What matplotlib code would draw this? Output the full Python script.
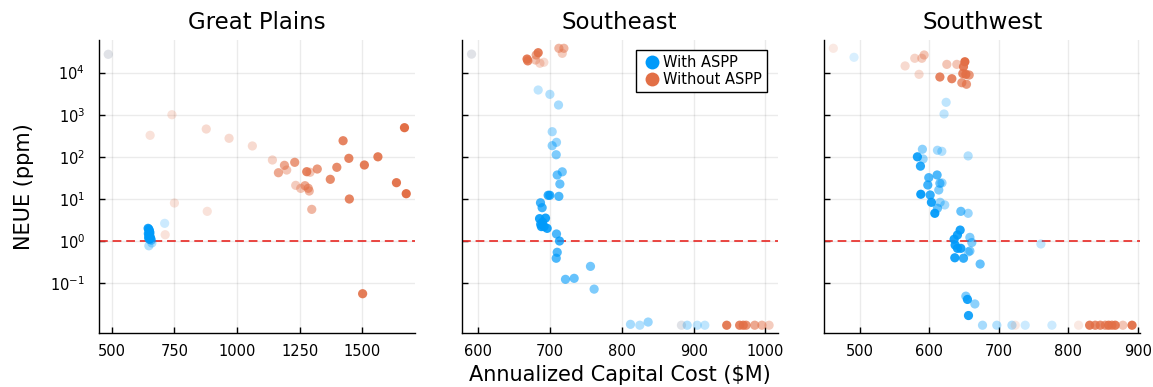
import matplotlib
matplotlib.use("Agg")
import matplotlib.pyplot as plt
import numpy as np
from matplotlib.lines import Line2D

BLUE = "#009AFA"
ORANGE = "#E26F46"

regions = ["Great Plains", "Southeast", "Southwest"]

# Great Plains
gp_with_cost = [486, 711, 648, 660, 645, 648, 650, 652, 646, 651, 649, 653, 647, 655, 650, 658]
gp_with_neue = [27200, 2.63, 0.77, 0.9, 2.0, 1.9, 1.75, 1.6, 1.5, 1.45, 1.35, 1.25, 1.2, 1.15, 1.1, 1.05]
gp_with_alpha = [0.12, 0.2, 0.3, 0.3, 0.9, 0.9, 0.9, 0.9, 0.9, 0.9, 0.9, 0.9, 0.9, 0.9, 0.8, 0.6]

gp_without_cost = [486, 653, 740, 877, 968, 1061, 750, 881, 713, 1141, 1165, 1189, 1198, 1230,
                   1234, 1254, 1271, 1278, 1291, 1284, 1288, 1298, 1320, 1372, 1398, 1423, 1446,
                   1448, 1508, 1501, 1562, 1636, 1668, 1675]
gp_without_neue = [27200, 324, 1000, 457, 275, 181, 8.0, 5.07, 1.41, 84, 41.9, 62.8, 48.5, 74,
                   21, 17.8, 20.6, 44.3, 42.9, 17.9, 15.4, 5.65, 51.3, 29.2, 56.3, 241, 92,
                   9.95, 63.9, 0.056, 100, 24.3, 492, 13.3]
gp_without_alpha = [0.12, 0.2, 0.2, 0.25, 0.25, 0.25, 0.2, 0.2, 0.2, 0.3, 0.6, 0.6, 0.4, 0.7,
                    0.35, 0.4, 0.6, 0.85, 0.4, 0.6, 0.5, 0.5, 0.7, 0.8, 0.8, 0.85, 0.85,
                    0.85, 0.9, 0.9, 0.9, 0.95, 1.0, 1.0]

# Southeast
se_with_cost = [590.7, 683.5, 699.8, 711.8, 703, 709, 703, 708.6, 717, 710, 713.7, 697.4, 699.7,
                712.3, 686.7, 689, 685.4, 693.7, 689.5, 688, 696, 691.7, 687, 709, 713.2, 710,
                708.6, 756.3, 721.5, 733.6, 761.4, 812, 825, 836.6, 883, 891, 905, 915.5]
se_with_neue = [27500, 3860, 3050, 1700, 395, 221, 184, 112, 44, 37, 22.6, 12.2, 12.2,
                11.5, 8.1, 6.2, 3.4, 3.5, 2.8, 2.2, 2.0, 2.2, 2.5, 1.47, 1.0, 0.54,
                0.39, 0.25, 0.123, 0.13, 0.072, 0.0105, 0.01, 0.0119, 0.01, 0.01, 0.01, 0.01]
se_with_alpha = [0.12, 0.25, 0.3, 0.35, 0.35, 0.4, 0.45, 0.5, 0.55, 0.6, 0.6, 0.8, 0.8,
                 0.7, 0.75, 0.75, 0.9, 0.9, 0.9, 0.9, 0.9, 0.9, 0.9, 0.7, 0.8, 0.7,
                 0.7, 0.55, 0.6, 0.6, 0.5, 0.35, 0.3, 0.4, 0.12, 0.3, 0.25, 0.25]

se_without_cost = [590.7, 668, 669, 683.5, 680.7, 679.8, 685.9, 691.4, 712.3, 719.3, 717,
                   883, 946, 964, 969, 973, 985, 995, 1005]
se_without_neue = [27500, 21000, 19000, 29700, 26200, 19900, 16700, 17600, 37800, 37800, 28700,
                   0.01, 0.01, 0.01, 0.01, 0.01, 0.01, 0.01, 0.01]
se_without_alpha = [0.12, 0.9, 0.85, 0.9, 0.6, 0.4, 0.3, 0.25, 0.5, 0.5, 0.35,
                    0.12, 0.9, 0.85, 0.85, 0.75, 0.6, 0.5, 0.35]

# Southwest
sw_with_cost = [491.3, 624, 621, 589.8, 611.5, 617.8, 655.7, 582.6, 590.8, 587, 599, 611, 597.6,
                615, 618, 613.4, 587.5, 601, 602.8, 615.4, 622, 611.5, 607.7, 645.2, 655.7,
                644.2, 640.3, 635.5, 637, 640.3, 645.2, 636.5, 649, 658.2, 661, 658.2, 656,
                673, 652.4, 654.7, 665.4, 656.2, 676.4, 697, 718.8, 737.9, 776.4, 760.5]
sw_with_neue = [23100, 1970, 1040, 151, 143, 135, 105, 100, 89, 60, 32, 37, 21.4,
                23.5, 24, 16.3, 12.9, 12.4, 8.3, 8.3, 7.2, 6.0, 4.55, 5.07, 4.55,
                1.82, 1.39, 1.1, 0.80, 0.67, 0.67, 0.40, 0.39, 1.22, 0.92, 0.58, 0.55,
                0.284, 0.049, 0.041, 0.032, 0.017, 0.01, 0.01, 0.01, 0.01, 0.01, 0.85]
sw_with_alpha = [0.15, 0.25, 0.25, 0.45, 0.35, 0.3, 0.3, 0.9, 0.4, 0.85, 0.7, 0.7, 0.75,
                 0.6, 0.4, 0.5, 0.95, 0.8, 0.9, 0.4, 0.35, 0.6, 0.95, 0.6, 0.4,
                 0.9, 0.9, 0.9, 0.9, 0.9, 0.9, 0.9, 0.8, 0.5, 0.5, 0.5, 0.4,
                 0.6, 0.5, 0.9, 0.45, 0.9, 0.35, 0.3, 0.3, 0.2, 0.2, 0.25]

sw_without_cost = [461.5, 564.9, 578.8, 589, 592.3, 585, 625, 639.4, 615, 632.2, 651, 649,
                   652.4, 657.2, 646.6, 653.3, 648, 723.6, 814.8, 830.7, 838.8, 846, 853.2,
                   858, 862.8, 867.6, 878.6, 891.8]
sw_without_neue = [37800, 14400, 21900, 21900, 26200, 9100, 15700, 15700, 7860, 7160, 18100, 13800,
                   9100, 8760, 5750, 5290, 9500, 0.01, 0.01, 0.01, 0.01, 0.01, 0.01,
                   0.01, 0.01, 0.01, 0.01, 0.01]
sw_without_alpha = [0.15, 0.25, 0.3, 0.35, 0.4, 0.25, 0.4, 0.4, 0.85, 0.85, 1.0, 0.9,
                    0.9, 0.7, 0.7, 0.7, 0.85, 0.15, 0.15, 0.9, 0.8, 0.8, 0.7,
                    0.9, 0.8, 0.9, 0.4, 0.95]

x_limits = [(449, 1710), (577, 1017), (448.5, 903.7)]
x_ticks = [[500, 750, 1000, 1250, 1500], [600, 700, 800, 900, 1000], [500, 600, 700, 800, 900]]
y_limits = (0.00643, 59500)
y_ticks = [1e-1, 1e0, 1e1, 1e2, 1e3, 1e4]
y_tick_labels = ["$10^{-1}$", "$10^{0}$", "$10^{1}$", "$10^{2}$", "$10^{3}$", "$10^{4}$"]
neue_target = 1.0

panels = [
    (gp_with_cost, gp_with_neue, gp_with_alpha, gp_without_cost, gp_without_neue, gp_without_alpha),
    (se_with_cost, se_with_neue, se_with_alpha, se_without_cost, se_without_neue, se_without_alpha),
    (sw_with_cost, sw_with_neue, sw_with_alpha, sw_without_cost, sw_without_neue, sw_without_alpha),
]

plt.rcParams["mathtext.default"] = "regular"
fig = plt.figure(figsize=(11.53, 3.87), dpi=100)

lefts = [99 / 1153, 461.7 / 1153, 824.3 / 1153]
width = 316 / 1153
bottom = (387 - 333.3) / 387
height = (333.3 - 40) / 387

axes = []
for i, (name, data) in enumerate(zip(regions, panels)):
    ax = fig.add_axes([lefts[i], bottom, width, height])
    axes.append(ax)
    w_x, w_y, w_a, wo_x, wo_y, wo_a = data

    ax.scatter(w_x, w_y, s=44, color=BLUE, alpha=np.array(w_a), linewidths=0, zorder=3)
    ax.scatter(wo_x, wo_y, s=44, color=ORANGE, alpha=np.array(wo_a), linewidths=0, zorder=3)
    ax.axhline(neue_target, color="#E8322E", lw=1.4, dashes=(4.5, 2.5), alpha=0.9, zorder=2)

    ax.set_yscale("log")
    ax.set_xlim(*x_limits[i])
    ax.set_ylim(*y_limits)
    ax.set_xticks(x_ticks[i])
    ax.set_yticks(y_ticks)
    ax.yaxis.set_minor_locator(matplotlib.ticker.NullLocator())
    if i == 0:
        ax.set_yticklabels(y_tick_labels)
        ax.set_ylabel("NEUE (ppm)", fontsize=15, labelpad=12)
    else:
        ax.set_yticklabels([])
    if i == 1:
        ax.set_xlabel("Annualized Capital Cost ($M)", fontsize=15, labelpad=4)

    ax.set_title(name, fontsize=16.5, pad=8)
    ax.grid(True, color="black", alpha=0.08, lw=1)
    ax.set_axisbelow(True)
    for side in ["top", "right"]:
        ax.spines[side].set_visible(False)
    for side in ["left", "bottom"]:
        ax.spines[side].set_linewidth(1.0)
    ax.tick_params(direction="in", length=4.5, width=1, labelsize=10.5)
    ax.tick_params(axis="x", pad=8)
    ax.tick_params(axis="y", pad=10)

handles = [
    Line2D([], [], marker="o", ls="none", color=BLUE, markersize=10, markeredgewidth=0),
    Line2D([], [], marker="o", ls="none", color=ORANGE, markersize=10, markeredgewidth=0),
]
axes[1].legend(handles, ["With ASPP", "Without ASPP"], loc="upper right",
               bbox_to_anchor=(0.967, 0.966), borderaxespad=0, fontsize=10.5,
               frameon=True, fancybox=False, edgecolor="black", framealpha=1,
               handletextpad=0.1, handlelength=1.4, borderpad=0.35, labelspacing=0.15)

fig.savefig("out.png", dpi=100)
